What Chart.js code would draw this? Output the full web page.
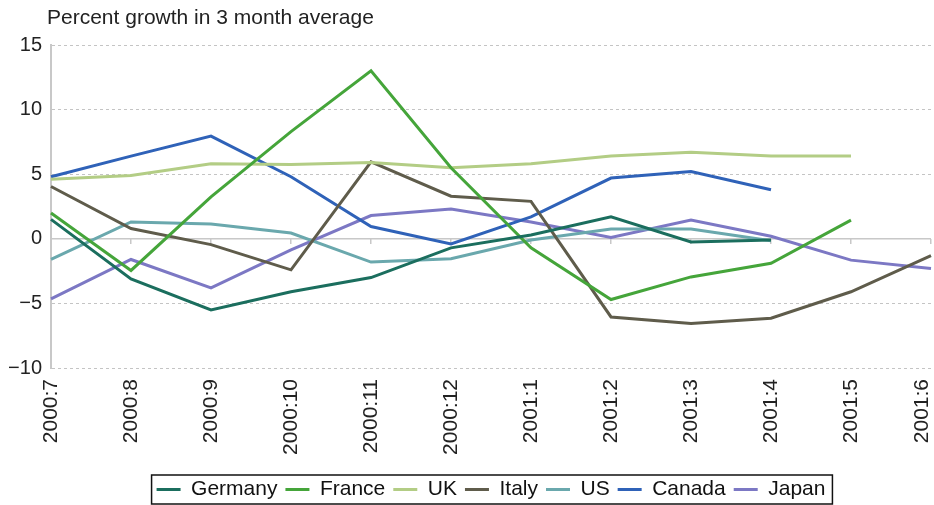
<!DOCTYPE html>
<html>
<head>
<meta charset="utf-8">
<script src="https://cdn.jsdelivr.net/npm/chart.js@4/dist/chart.umd.min.js"></script>
<style>
  html, body { margin: 0; padding: 0; background: #fff; }
  #wrap { width: 934px; height: 505px; }
</style>
</head>
<body>
<div id="wrap"><canvas id="chart" width="934" height="505"></canvas></div>
<script>
const months = ["2000:7", "2000:8", "2000:9", "2000:10", "2000:11", "2000:12",
  "2001:1", "2001:2", "2001:3", "2001:4", "2001:5", "2001:6"];

const germany = [1.5, -3.1, -5.5, -4.1, -3.0, -0.7, 0.3, 1.7, -0.25, -0.1, null, null];
const france = [2.0, -2.45, 3.25, 8.3, 13.0, 5.5, -0.7, -4.7, -2.95, -1.9, 1.45, null];
const uk = [4.6, 4.9, 5.8, 5.75, 5.9, 5.5, 5.8, 6.4, 6.7, 6.4, 6.4, null];
const italy = [4.05, 0.8, -0.45, -2.4, 5.95, 3.3, 2.9, -6.05, -6.55, -6.15, -4.1, -1.3];
const us = [-1.6, 1.3, 1.15, 0.45, -1.8, -1.55, -0.1, 0.75, 0.75, -0.15, null, null];
const canada = [4.8, 6.4, 7.95, 4.8, 0.95, -0.4, 1.7, 4.7, 5.2, 3.8, null, null];
const japan = [-4.65, -1.6, -3.8, -0.85, 1.8, 2.3, 1.3, 0.1, 1.45, 0.2, -1.65, -2.3];

const yTicks = [-10, -5, 0, 5, 10, 15];
const chartTitle = "Percent growth in 3 month average";

const FONT = "'Liberation Sans', Arial, Helvetica, sans-serif";

const line = (label, data, color) => ({
  label: label,
  data: data,
  borderColor: color,
  backgroundColor: color,
  borderWidth: 3,
  pointRadius: 0,
  pointHoverRadius: 0,
  tension: 0,
});

// title sits just left of the plot, drawn by hand since Chart.js title can't be offset
const titlePlugin = {
  id: "leftTitle",
  afterDraw(chart) {
    const ctx = chart.ctx;
    ctx.save();
    ctx.font = "21px " + FONT;
    ctx.fillStyle = "#222";
    ctx.textBaseline = "top";
    ctx.textAlign = "left";
    ctx.fillText(chartTitle, chart.chartArea.left - 4, 8);
    ctx.restore();
  },
};

// pull the last month label inside the canvas
const lastLabelNudge = {
  id: "lastLabelNudge",
  beforeDraw(chart) {
    const items = chart.scales.x.getLabelItems();
    const last = items[items.length - 1];
    if (last && !last._nudged) {
      last.options.translation[0] -= 9;
      last._nudged = true;
    }
  },
};

// black frame round the legend items
const legendFrame = {
  id: "legendFrame",
  afterDraw(chart) {
    const boxes = chart.legend.legendHitBoxes;
    if (!boxes || !boxes.length) return;
    let l = Infinity, r = -Infinity, t = Infinity, b = -Infinity;
    boxes.forEach(h => {
      l = Math.min(l, h.left); r = Math.max(r, h.left + h.width);
      t = Math.min(t, h.top); b = Math.max(b, h.top + h.height);
    });
    const ctx = chart.ctx;
    ctx.save();
    ctx.strokeStyle = "#111";
    ctx.lineWidth = 1.5;
    ctx.strokeRect(l - 5, t - 4, r - l + 12, b - t + 8);
    ctx.restore();
  },
};

new Chart(document.getElementById("chart"), {
  type: "line",
  data: {
    labels: months,
    datasets: [
      line("Germany", germany, "#1b6e5e"),
      line("France", france, "#45a53a"),
      line("UK", uk, "#b3cd85"),
      line("Italy", italy, "#5f5c4b"),
      line("US", us, "#6aa8ad"),
      line("Canada", canada, "#2f62b8"),
      line("Japan", japan, "#7c78c4"),
    ],
  },
  options: {
    responsive: false,
    animation: false,
    layout: { padding: { top: 45, left: 0, right: 0, bottom: -5 } },
    scales: {
      x: {
        type: "category",
        grid: { display: false, drawTicks: false },
        border: { display: false },
        ticks: {
          autoSkip: false,
          maxRotation: 90,
          minRotation: 90,
          padding: 11,
          color: "#222",
          font: { family: FONT, size: 21 },
        },
        afterFit(s) { s.paddingLeft = 0; s.paddingRight = 3; s.height = 103; },
      },
      x2: {
        type: "category",
        position: { y: 0 },
        grid: { drawOnChartArea: false, drawTicks: true, tickLength: 5, color: "#c8c8c8", lineWidth: 1.5 },
        border: { display: false },
        ticks: { display: false },
      },
      y: {
        min: -10,
        max: 15,
        afterBuildTicks(s) { s.ticks = yTicks.map(v => ({ value: v })); },
        afterFit(s) { s.width = 51; },
        grid: {
          drawTicks: false,
          color: c => (c.tick && c.tick.value === 0 ? "#c8c8c8" : "#c4c4c4"),
          lineWidth: c => (c.tick && c.tick.value === 0 ? 1.5 : 1),
        },
        border: {
          display: true,
          color: "#c8c8c8",
          width: 2,
          dash: c => (c.tick && c.tick.value === 0 ? [] : [3, 3]),
        },
        ticks: {
          padding: 9,
          color: "#222",
          font: { family: FONT, size: 20 },
          callback: v => String(v).replace("-", "\u2212"),
        },
      },
    },
    plugins: {
      title: { display: false },
      tooltip: { enabled: false },
      legend: {
        position: "bottom",
        fullSize: false,
        labels: {
          boxWidth: 24,
          boxHeight: 3,
          padding: 8,
          color: "#111",
          font: { family: FONT, size: 21 },
          generateLabels(chart) {
            return Chart.defaults.plugins.legend.labels.generateLabels(chart)
              .map(it => Object.assign(it, { lineWidth: 0 }));
          },
        },
      },
    },
  },
  plugins: [titlePlugin, lastLabelNudge, legendFrame],
});
</script>
</body>
</html>
